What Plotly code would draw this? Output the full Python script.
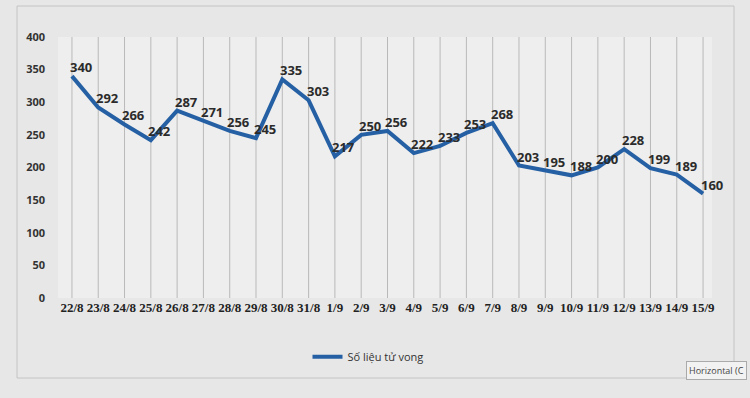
import plotly.graph_objects as go

dates = ["22/8", "23/8", "24/8", "25/8", "26/8", "27/8", "28/8", "29/8", "30/8", "31/8",
         "1/9", "2/9", "3/9", "4/9", "5/9", "6/9", "7/9", "8/9", "9/9", "10/9",
         "11/9", "12/9", "13/9", "14/9", "15/9"]
deaths = [340, 292, 266, 242, 287, 271, 256, 245, 335, 303,
          217, 250, 256, 222, 233, 253, 268, 203, 195, 188,
          200, 228, 199, 189, 160]
series_name = "Số liệu tử vong"
y_ticks = [0, 50, 100, 150, 200, 250, 300, 350, 400]

W, H = 750, 398
ml, mr, mt, mb = 58, 38, 37, 100
pw = W - ml - mr
ph = H - mt - mb
def px(x):
    return (x - ml) / pw
def py(y):
    return (H - mb - y) / ph

fig = go.Figure()
fig.add_trace(go.Scatter(
    x=list(range(len(dates))), y=deaths, name=series_name,
    mode="lines",
    line=dict(color="#2660a4", width=4),
    cliponaxis=False,
))

# data labels
for i, v in enumerate(deaths):
    fig.add_annotation(x=i, y=v, xref="x", yref="y", text=str(v), showarrow=False,
                       xanchor="center", yanchor="middle", xshift=9, yshift=9,
                       font=dict(family="Open Sans", size=13, color="#2b2b2b", weight="bold"))

# vertical gridlines at categories
for i in range(len(dates)):
    fig.add_shape(type="line", x0=i, x1=i, y0=0, y1=400, xref="x", yref="y",
                  line=dict(color="#b9b9b9", width=1), layer="below")

fig.update_layout(
    width=W, height=H,
    margin=dict(l=ml, r=mr, t=mt, b=mb, autoexpand=False),
    paper_bgcolor="#e7e7e7",
    plot_bgcolor="#eeeeee",
    showlegend=True,
    legend=dict(orientation="h", x=px(368), xanchor="center", y=-0.17, yanchor="top",
                font=dict(family="Open Sans", size=11, color="#333333"),
                itemwidth=30,
                bgcolor="rgba(0,0,0,0)"),
    xaxis=dict(range=[-0.53, 24.34], tickmode="array", automargin=False,
               tickvals=list(range(len(dates))), ticktext=dates,
               showgrid=False, zeroline=False, showline=False, ticks="",
               tickfont=dict(family="Liberation Serif", size=13, color="#222222", weight="bold")),
    yaxis=dict(range=[0, 400], tickmode="array", tickvals=y_ticks, automargin=False,
               showgrid=False, zeroline=False, showline=False, ticks="",
               ticklabelstandoff=12,
               tickfont=dict(family="Open Sans", size=11, color="#333333", weight="bold")),
)

# chart-area border (paper coordinates)
fig.add_shape(type="rect", xref="paper", yref="paper",
              x0=px(17), x1=px(734), y0=py(378), y1=py(6),
              line=dict(color="#c4c4c4", width=1), layer="below")

fig.add_annotation(xref="paper", yref="paper", x=px(747), y=py(370),
                   xanchor="right", yanchor="middle", showarrow=False,
                   text="Horizontal (C", bgcolor="#f2f2f2", bordercolor="#aaaaaa",
                   borderwidth=1, borderpad=2,
                   font=dict(family="Open Sans", size=9, color="#444444"))

fig.write_html("out.html", config={"displayModeBar": False},
               post_script="document.body.style.margin='0';document.body.style.overflow='hidden';")
